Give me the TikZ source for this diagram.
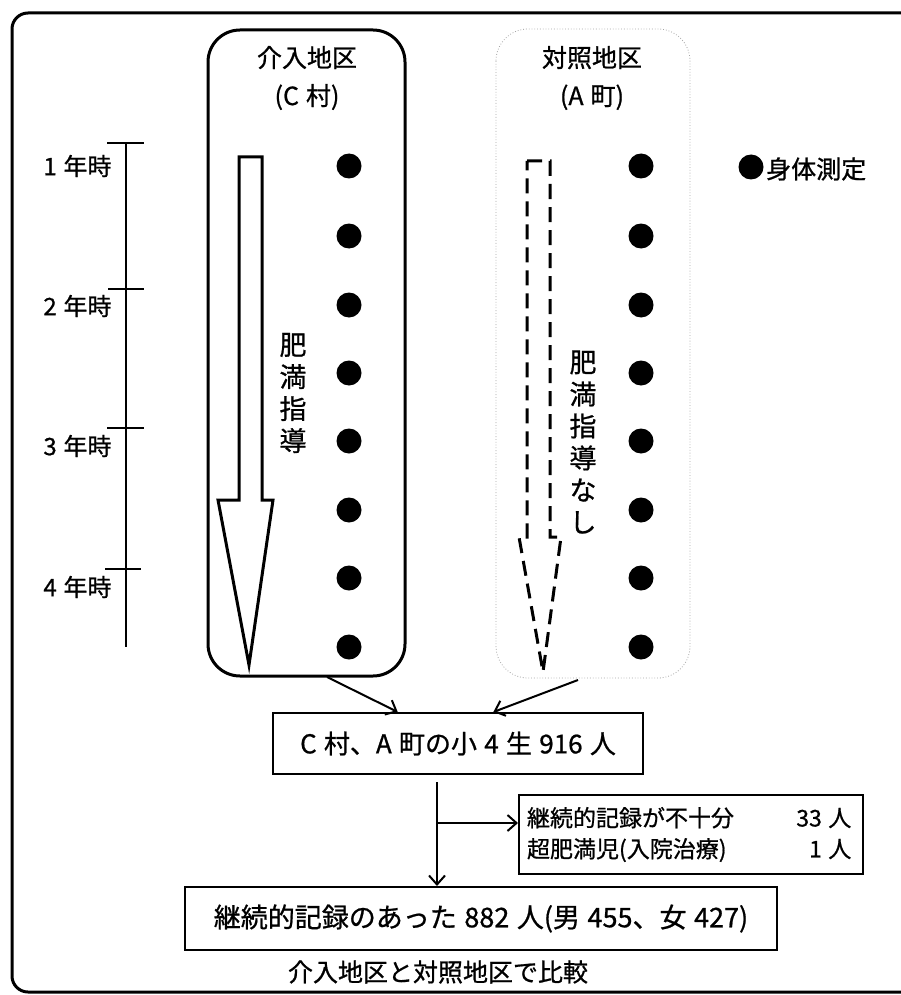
\documentclass[tikz,border=0pt]{standalone}
\usepackage{fontspec}
\setmainfont{Noto Sans CJK JP}[FakeBold=0.8]
\usetikzlibrary{arrows.meta,calc}
\newcommand{\hsp}{\hspace{0.28em}}
\tikzset{
  frame/.style={line width=3pt,rounded corners=16pt},
  areabox/.style={line width=3pt,rounded corners=32pt},
  ctrlbox/.style={line width=0.8pt,gray!70,dotted,rounded corners=32pt},
  title/.style={font=\fontsize{25pt}{38pt}\selectfont,align=center},
  yearlbl/.style={font=\fontsize{24pt}{26pt}\selectfont,anchor=east},
  scaleline/.style={line width=2pt},
  meas/.style={circle,fill=black,inner sep=0pt,minimum size=25pt},
  hollow/.style={line width=3pt,line join=miter},
  dashhollow/.style={line width=3pt,dash pattern=on 15pt off 8pt},
  vtext/.style={font=\fontsize{27pt}{32pt}\selectfont,align=center,inner sep=0pt},
  flowbox/.style={draw,line width=2pt,inner sep=0pt},
  conn/.style={line width=2pt,-{Straight Barb[length=9pt,width=16pt,line width=2pt]}},
  plainline/.style={line width=2pt}
}
\begin{document}
\begin{tikzpicture}[x=1pt,y=-1pt]
\useasboundingbox (0,0) rectangle (901,995);
\clip (0,0) rectangle (901,995);
\fill[white] (0,0) rectangle (901,995);
% outer frame
\draw[frame] (920,13) -| (12,992) -- (920,992);
% area boxes
\draw[areabox] (208,30) rectangle (405,676);
\draw[ctrlbox] (496,29) rectangle (690,678);
\node[title] (t1) at (307,78) {介入地区\\(C\hsp 村)};
\node[title] (t2) at (592,78) {対照地区\\(A\hsp 町)};
% time scale
\draw[scaleline] (126,143) -- (126,647);
\draw[scaleline] (107,143) -- (144,143);
\draw[scaleline] (108,289) -- (144,289);
\draw[scaleline] (107,428) -- (144,428);
\draw[scaleline] (105,569) -- (141,569);
\node[yearlbl] (y1) at (115,166) {1\hsp 年時};
\node[yearlbl] (y2) at (115,306) {2\hsp 年時};
\node[yearlbl] (y3) at (115,446) {3\hsp 年時};
\node[yearlbl] (y4) at (115,587) {4\hsp 年時};
% measurement dots
\foreach \i/\yy in {1/166,2/236,3/305,4/373,5/441,6/510,7/578,8/647}{
  \node[meas] (l\i) at (349,\yy) {};
  \node[meas] (r\i) at (641,\yy) {};
}
% legend
\node[meas] (leg) at (751,167) {};
\node[anchor=west,font=\fontsize{25pt}{26pt}\selectfont,inner sep=0pt] (legt) at (766,169) {身体測定};
% hollow arrows
\draw[hollow] (239,157) -- (262,157) -- (262,500) -- (273,500) -- (249,665) -- (218,500) -- (239,500) -- cycle;
\draw[dashhollow] (527,161) -- (550,161) -- (550,537) -- (561,537) -- (543,672) -- (519,537) -- (527,537) -- cycle;
\node[vtext] (v1) at (293,393) {肥\\満\\指\\導};
\node[vtext] (v2) at (583,442) {肥\\満\\指\\導\\な\\し};
% flow boxes
\node[flowbox,minimum width=370pt,minimum height=61pt,font=\fontsize{26pt}{27pt}\selectfont] (b1) at (458,743.5) {C\hsp 村、A\hsp 町の小\hsp 4\hsp 生\hsp 916\hsp 人};
\node[flowbox,minimum width=344pt,minimum height=79pt,inner xsep=8pt,text width=328pt,font=\fontsize{23pt}{31pt}\selectfont,align=left] (b2) at (691,834.5) {\makebox[10em][l]{継続的記録が不十分}\makebox[4.1em][r]{33\hsp 人}\\\makebox[10em][l]{超肥満児(入院治療)}\makebox[4.1em][r]{1\hsp 人}};
\node[flowbox,minimum width=592pt,minimum height=63pt,font=\fontsize{27pt}{28pt}\selectfont] (b3) at (481,918.5) {継続的記録のあった\hsp 882\hsp 人(男\hsp 455、女\hsp 427)};
\node[font=\fontsize{25pt}{26pt}\selectfont] (cap) at (438,972) {介入地区と対照地区で比較};
% connectors
\coordinate (s1) at (327,677);
\coordinate (s2) at (578,680);
\coordinate (e1) at ($(b1.north west)!0.338!(b1.north east)$);
\coordinate (e2) at ($(b1.north west)!0.595!(b1.north east)$);
\draw[conn] (s1) -- (e1);
\draw[conn] (s2) -- (e2);
\coordinate (v0) at (437,782);
\coordinate (br) at (437,823);
\draw[conn] (v0) -- (v0 |- b3.north);
\draw[conn] (br) -- (br -| b2.west);
\end{tikzpicture}
\end{document}
